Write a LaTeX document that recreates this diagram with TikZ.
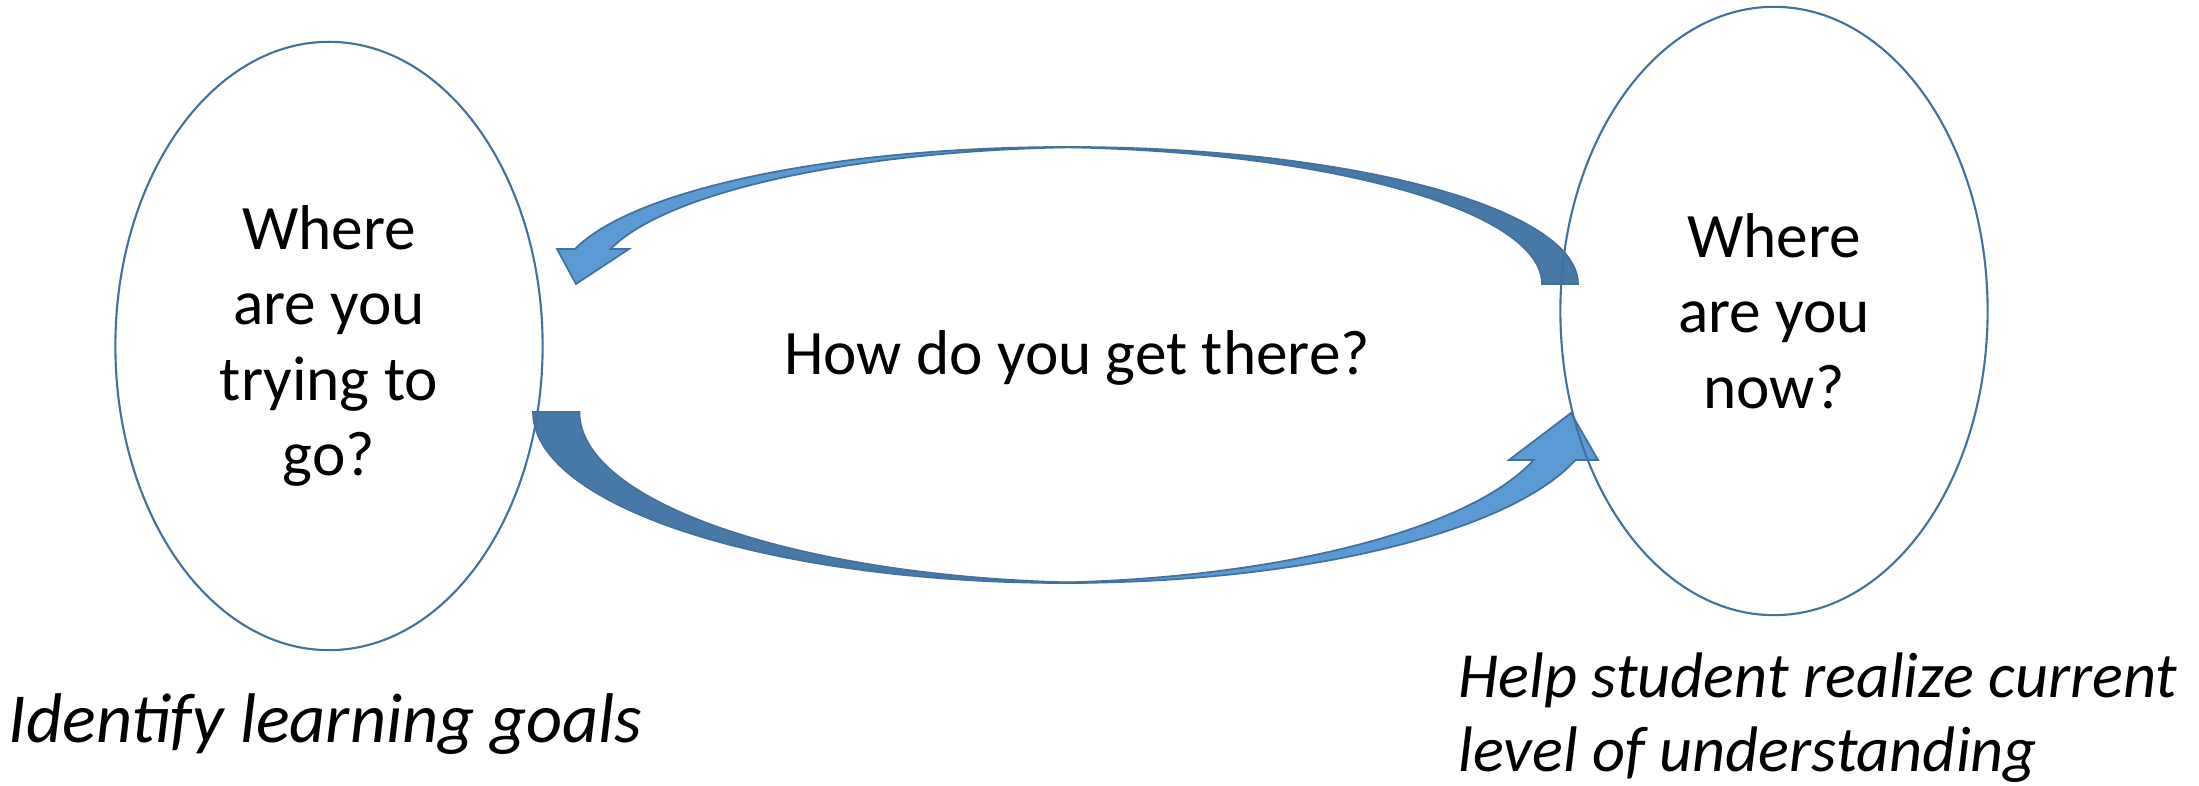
\documentclass[tikz,border=0pt]{standalone}
\usepackage{fontspec}
\setmainfont{Carlito}
\usepackage{tikz}
\usetikzlibrary{shapes.geometric,positioning}
\definecolor{edgeblue}{RGB}{65,113,156}
\definecolor{faceblue}{RGB}{91,155,213}
\definecolor{backblue}{RGB}{71,121,168}

\begin{document}
\begin{tikzpicture}[x=0.01cm,y=0.01cm,
  bubble/.style={draw=edgeblue,line width=0.6pt,ellipse,
    minimum width=4.27cm,minimum height=6.08cm,align=center,
    font=\fontsize{18}{21.5}\selectfont},
  caption/.style={font=\fontsize{20}{21}\selectfont\itshape,align=left,inner sep=0pt},
  frontface/.style={fill=faceblue,draw=edgeblue,line width=0.5pt},
  backface/.style={fill=backblue,draw=edgeblue,line width=0.5pt}
]
\useasboundingbox (0,0) rectangle (2199,786);

% upper arrow, right to left
\fill[frontface] (575,537) arc[start angle=165.2,end angle=88,x radius=510,y radius=137]
  arc[start angle=92,end angle=165.2,x radius=510,y radius=137]
  -- (629,537) -- (576,502) -- (557,537) -- cycle;
\fill[backface] (1050.2,638.9) arc[start angle=92,end angle=0,x radius=510,y radius=137]
  -- (1542,502) arc[start angle=0,end angle=88,x radius=510,y radius=137] -- cycle;

% lower arrow, left to right
\fill[backface] (533,374) arc[start angle=180,end angle=272.5,x radius=532,y radius=171]
  arc[start angle=267.5,end angle=180,x radius=532,y radius=171] -- cycle;
\fill[frontface] (1041.8,203.2) arc[start angle=267.5,end angle=343.7,x radius=532,y radius=171]
  -- (1598,326) -- (1571,373) -- (1509,326) -- (1533.6,326)
  arc[start angle=343.7,end angle=272.5,x radius=532,y radius=171] -- cycle;

\node[bubble] (goal) at (329,440) {Where\\are you\\trying to\\go?};
\node[bubble] (now) at (1774,475) {Where\\are you\\now?};
\node[font=\fontsize{18}{21.5}\selectfont] (how) at (1077,428) {How do you get there?};

\node[caption,anchor=base west] (goaltext) at (8,43) {Identify learning goals};
\node[caption,font=\fontsize{18.3}{21}\selectfont\itshape,anchor=north west] (nowtext)
  at (1458,134) {Help student realize current\\level of understanding};
\end{tikzpicture}
\end{document}
